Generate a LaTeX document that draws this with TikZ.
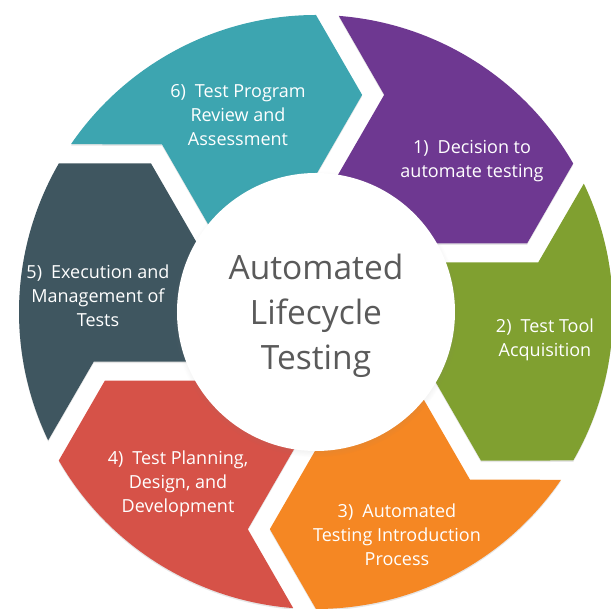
\documentclass[tikz,border=0pt]{standalone}
\usepackage{fontspec}
\setsansfont{Open Sans}
\usepackage{xcolor}
\definecolor{segPurple}{HTML}{6E3891}
\definecolor{segGreen}{HTML}{80A030}
\definecolor{segOrange}{HTML}{F58723}
\definecolor{segRed}{HTML}{D65248}
\definecolor{segSlate}{HTML}{3F5660}
\definecolor{segTeal}{HTML}{3DA5B0}
\definecolor{hubText}{HTML}{5A5A5A}
\usepackage{tikz}
\usetikzlibrary{shadows}
\pgfdeclareradialshading{hubshade}{\pgfpoint{0bp}{0bp}}{color(0bp)=(white); color(38bp)=(white); color(50bp)=(black!17); color(100bp)=(black!17)}
% one chevron of the ring, the others are rotated copies
\newcommand{\segpath}{(68.2,217.2) -- (85.6:297pt) arc[start angle=85.6, end angle=30, radius=297pt] -- (211.1,68.6) -- (-17.6,68.6) -- cycle}
\tikzset{
    segment/.style={
        fill=#1,
        drop shadow={opacity=0.2, shadow xshift=0pt, shadow yshift=-1.5pt}
    },
    hub/.style={
        circle,
        minimum size=278pt,
        inner sep=0pt,
        shade,
        shading=hubshade,
        circular drop shadow={opacity=0.3, shadow xshift=0pt, shadow yshift=-2pt, shadow scale=1.03}
    },
    hubtitle/.style={
        align=center,
        text=hubText,
        font=\sffamily\fontsize{33.5}{45}\selectfont
    },
    seglabel/.style={
        align=center,
        text=white,
        font=\sffamily\fontsize{18}{24}\selectfont
    }
}

\begin{document}
\begin{tikzpicture}[x=1pt, y=1pt]
    \useasboundingbox (-316,-297) rectangle (295,312);
    \clip (-316,-297) rectangle (295,312);

    \fill[segment=segPurple] \segpath;
    \fill[segment=segGreen, rotate=-60] \segpath;
    \fill[segment=segOrange, rotate=-120] \segpath;
    \fill[segment=segRed, rotate=-180] \segpath;
    \fill[segment=segSlate, rotate=-240] \segpath;
    \fill[segment=segTeal, rotate=-300] \segpath;

    \node[hub] (hub) at (0,0) {};
    \node[hubtitle] (title) at ([yshift=-4pt]hub.center) {Automated\\Lifecycle\\Testing};

    \node[seglabel] (decision) at (156,151) {1)\enspace Decision to\\automate testing};
    \node[seglabel] (tool) at (229,-28) {2)\enspace Test Tool\\Acquisition};
    \node[seglabel] (intro) at (81,-223) {3)\enspace Automated\\Testing Introduction\\Process};
    \node[seglabel] (planning) at (-138,-172) {4)\enspace Test Planning,\\Design, and\\Development};
    \node[seglabel] (execution) at (-218,16) {5)\enspace Execution and\\Management of\\Tests};
    \node[seglabel] (review) at (-78,197) {6)\enspace Test Program\\Review and\\Assessment};
\end{tikzpicture}
\end{document}
